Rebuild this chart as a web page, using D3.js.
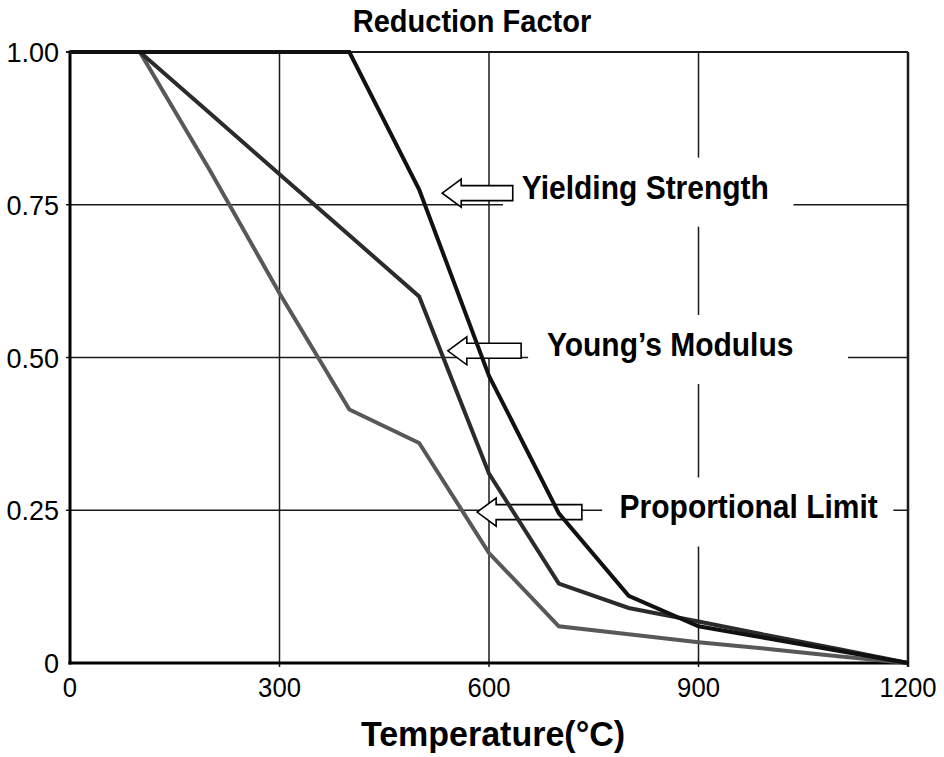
<!DOCTYPE html>
<html>
<head>
<meta charset="utf-8">
<script src="https://cdn.jsdelivr.net/npm/d3@7"></script>
<style>
  html, body { margin: 0; padding: 0; background: #fff; }
  svg { display: block; }
  text { font-family: "Liberation Sans", Arial, Helvetica, sans-serif; }
</style>
</head>
<body>
<svg id="chart" width="944" height="757"></svg>
<script>
// ---- data ----
const temps = [0, 100, 200, 300, 400, 500, 600, 700, 800, 900, 1000, 1100, 1200];
const yieldingStrength = [1, 1, 1, 1, 1, 0.775, 0.47, 0.245, 0.11, 0.06, 0.04, 0.02, 0];
const youngsModulus    = [1, 1, 0.9, 0.8, 0.7, 0.6, 0.31, 0.13, 0.09, 0.068, 0.045, 0.023, 0];
const proportionalLimit = [1, 1, 0.807, 0.605, 0.415, 0.36, 0.18, 0.06, 0.047, 0.034, 0.023, 0.011, 0];
const seriesNames = ["Yielding Strength", "Young\u2019s Modulus", "Proportional Limit"];
const xTicks = [0, 300, 600, 900, 1200];
const yTicks = [0, 0.25, 0.5, 0.75, 1.0];
const yTickLabels = ["0", "0.25", "0.50", "0.75", "1.00"];
const title = "Reduction Factor";
const xTitle = "Temperature(\u00B0C)";

// ---- layout ----
const svg = d3.select("#chart");
const x = d3.scaleLinear().domain([0, 1200]).range([70, 908]);
const y = d3.scaleLinear().domain([0, 1]).range([663, 52]);

const seriesStyle = [
  { color: "#111111", width: 4 },
  { color: "#2b2b2b", width: 4 },
  { color: "#585858", width: 4 }
];
const seriesData = [yieldingStrength, youngsModulus, proportionalLimit];

// annotation placement (data coordinates): arrow tip, shaft end, text start
const annotations = [
  { tipX: 533, tipY: 0.769, shaftEnd: 634, textX: 647, textY: 0.76, boxX0: 620, boxX1: 1036, name: seriesNames[0] },
  { tipX: 541, tipY: 0.511, shaftEnd: 646, textX: 683, textY: 0.5025, boxX0: 656, boxX1: 1114, name: seriesNames[1] },
  { tipX: 583, tipY: 0.247, shaftEnd: 733, textX: 787, textY: 0.2365, boxX0: 762, boxX1: 1179, name: seriesNames[2] }
];

// ---- gridlines ----
const grid = svg.append("g");
xTicks.filter(d => d > 0).forEach(d => {
  grid.append("line")
    .attr("x1", x(d)).attr("x2", x(d))
    .attr("y1", y(1)).attr("y2", y(0) + 4)
    .attr("stroke", "#1a1a1a")
    .attr("stroke-width", d === 1200 ? 2.5 : 1.5);
});
yTicks.filter(d => d > 0).forEach(d => {
  grid.append("line")
    .attr("x1", x(0) - 4).attr("x2", x(1200))
    .attr("y1", y(d)).attr("y2", y(d))
    .attr("stroke", "#1a1a1a")
    .attr("stroke-width", d === 1 ? 2 : 1.5);
});

// ---- label backgrounds (white boxes that break the grid) ----
const ann = svg.append("g");
annotations.forEach(a => {
  const by = y(a.textY);
  ann.append("rect")
    .attr("x", x(a.boxX0)).attr("width", x(a.boxX1) - x(a.boxX0))
    .attr("y", by - 41).attr("height", 69)
    .attr("fill", "#fff");
});

// ---- arrows ----
annotations.forEach(a => {
  const tx = x(a.tipX), ty = y(a.tipY), ex = x(a.shaftEnd);
  const hb = tx + 19, hh = 14, sh = 7.5;
  const pts = [[tx, ty], [hb, ty - hh], [hb, ty - sh], [ex, ty - sh], [ex, ty + sh], [hb, ty + sh], [hb, ty + hh]];
  ann.append("path")
    .attr("d", d3.line()(pts) + "Z")
    .attr("fill", "#fff")
    .attr("stroke", "#000")
    .attr("stroke-width", 1.6)
    .attr("stroke-linejoin", "miter");
});

// ---- axes (left and bottom) ----
svg.append("line")
  .attr("x1", x(0)).attr("x2", x(0)).attr("y1", y(1) - 1.5).attr("y2", y(0) + 1.5)
  .attr("stroke", "#000").attr("stroke-width", 3);
svg.append("line")
  .attr("x1", x(0) - 1.5).attr("x2", x(1200) + 1).attr("y1", y(0)).attr("y2", y(0))
  .attr("stroke", "#000").attr("stroke-width", 3);

// ---- series lines (drawn back to front) ----
const lineGen = d3.line().x((d, i) => x(temps[i])).y(d => y(d));
[2, 1, 0].forEach(k => {
  svg.append("path")
    .datum(seriesData[k])
    .attr("d", lineGen)
    .attr("fill", "none")
    .attr("stroke", seriesStyle[k].color)
    .attr("stroke-width", seriesStyle[k].width)
    .attr("stroke-linejoin", "miter")
    .attr("stroke-linecap", "butt");
});

// ---- annotation text (slightly tall glyphs as in the reference) ----
annotations.forEach(a => {
  svg.append("text")
    .attr("transform", `translate(${x(a.textX)},${y(a.textY)}) scale(1,1.1)`)
    .attr("font-size", 30).attr("font-weight", "bold")
    .attr("fill", "#000")
    .text(a.name);
});

// ---- tick labels ----
yTicks.forEach((d, i) => {
  svg.append("text")
    .attr("x", 59).attr("y", y(d) + 10)
    .attr("text-anchor", "end")
    .attr("font-size", 27)
    .attr("fill", "#000")
    .text(yTickLabels[i]);
});
xTicks.forEach(d => {
  svg.append("text")
    .attr("transform", `translate(${x(d)},697) scale(0.95,1.05)`)
    .attr("text-anchor", "middle")
    .attr("font-size", 27)
    .attr("fill", "#000")
    .text(d3.format("d")(d));
});

// ---- titles ----
svg.append("text")
  .attr("transform", "translate(472,32) scale(1,1.08)")
  .attr("text-anchor", "middle")
  .attr("font-size", 29).attr("font-weight", "bold")
  .text(title);
svg.append("text")
  .attr("transform", "translate(493,746) scale(1,1.05)")
  .attr("text-anchor", "middle")
  .attr("font-size", 34).attr("font-weight", "bold")
  .text(xTitle);
</script>
</body>
</html>
